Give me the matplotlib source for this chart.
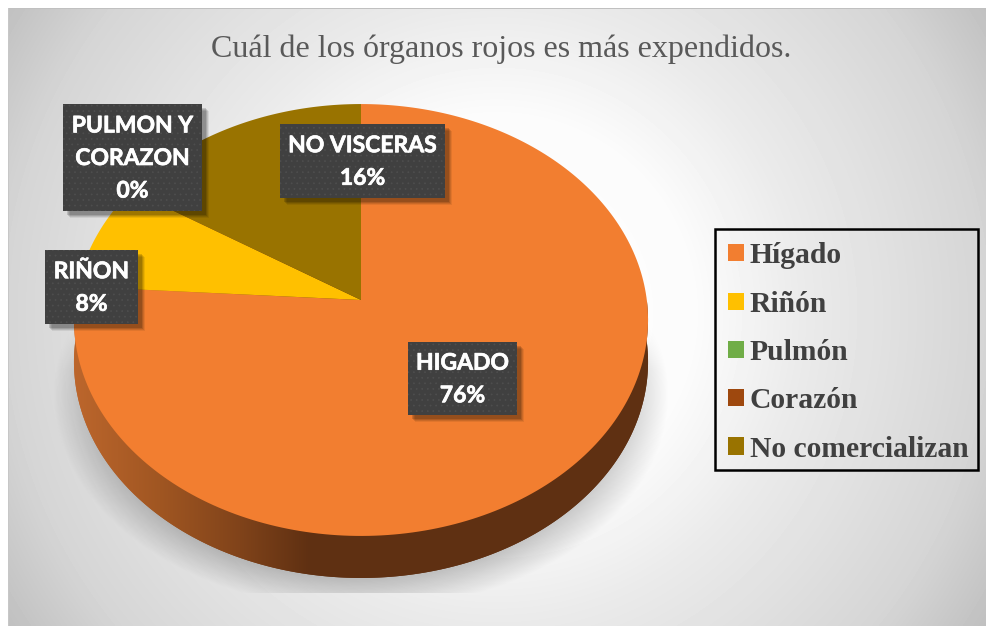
import numpy as np
import matplotlib
matplotlib.use("Agg")
import matplotlib.pyplot as plt
import matplotlib.patheffects as pe
from matplotlib.patches import Polygon, Rectangle, Patch

# data
organos = ["Hígado", "Riñón", "Pulmón", "Corazón", "No comercializan"]
valores = [76, 8, 0, 0, 16]
colores = ["#F27E30", "#FFC000", "#70AD47", "#9E480E", "#997300"]
titulo = "Cuál de los órganos rojos es más expendidos."
etiquetas = ["HIGADO\n76%", "RIÑON\n8%", "PULMON Y\nCORAZON\n0%", "NO VISCERAS\n16%"]
cajas = [(408, 342, 109, 73), (45, 250, 93, 74), (63, 104, 139, 107), (280, 124, 165, 74)]

W, H = 986, 626
fig = plt.figure(figsize=(W / 100, H / 100), dpi=100, facecolor="white")
ax = fig.add_axes([0, 0, 1, 1])

# pie geometry in pixels
cx, cy = 361, 300
a, b, c = 214.1, 285.8, 0.0926
depth = 42


def persp(x, y):
    # tilted disc, apex sits above the middle of the ellipse
    return cx + b * x / (1 + c * y), cy - a * y / (1 + c * y)


###################### Background ######################
xx, yy = np.meshgrid(np.arange(W) + 0.5, np.arange(H) + 0.5)
d = np.hypot(xx - 497, yy - 313)
fondo = np.interp(d, [0, 200, 305, 490, 582], [1, 0.985, 0.92, 0.835, 0.75])
fondo[(xx < 8) | (yy < 8)] = 1
fondo[8, 8:] = 0.75
fondo[8:, 8] = 0.78
ax.imshow(fondo, cmap="gray", vmin=0, vmax=1, extent=(0, W, H, 0), aspect="auto", zorder=0)

# soft shadow under the pie
r = np.sqrt(((xx - cx) / 308) ** 2 + ((yy - 395) / 215) ** 2)
sombra = 0.2 * np.clip((1 - r) / 0.14, 0, 1) * np.clip((yy - 320) / 50, 0, 1)
sombra[yy > 593] = 0
rgba = np.zeros((H, W, 4))
rgba[..., 3] = sombra
ax.imshow(rgba, extent=(0, W, H, 0), aspect="auto", zorder=1)

###################### Pie ######################
wedges, _ = ax.pie(valores, colors=colores, startangle=90, counterclock=False)
for w, col in zip(wedges, colores):
    w.remove()
    if w.theta2 - w.theta1 < 0.01:
        continue
    t = np.radians(np.linspace(w.theta1, w.theta2, 240))
    px, py = persp(np.r_[0, np.cos(t)], np.r_[0, np.sin(t)])
    ax.add_patch(Polygon(np.c_[px, py], closed=True, fc=col, ec="none", zorder=4))

# side wall, colour runs from left to right
t = np.radians(np.linspace(0, 360, 720))
ex, ey = persp(np.cos(t), np.sin(t))
ancho = np.arange(W) + 0.5
tono = np.c_[
    np.interp(ancho, [75, 160, 240, 310], [0xBC, 0xA0, 0x80, 0x5F]),
    np.interp(ancho, [75, 160, 240, 310], [0x66, 0x56, 0x43, 0x30]),
    np.interp(ancho, [75, 160, 240, 310], [0x2C, 0x22, 0x1A, 0x12]),
] / 255
im = ax.imshow(tono[np.newaxis, :, :], extent=(0, W, H, 0), aspect="auto", zorder=2)
im.set_clip_path(Polygon(np.c_[ex, ey + depth], closed=True, transform=ax.transData))

im2 = ax.imshow(tono[np.newaxis, :, :], extent=(0, W, H, 0), aspect="auto", zorder=3)
banda = np.r_[np.c_[ex[360:], ey[360:]], np.c_[ex[360:], ey[360:] + depth][::-1]]
im2.set_clip_path(Polygon(banda, closed=True, transform=ax.transData))

###################### Labels ######################
plt.rcParams["hatch.linewidth"] = 0.5
for (x0, y0, bw, bh), txt in zip(cajas, etiquetas):
    for off, al in [(7, 0.07), (6, 0.1), (5, 0.12), (4, 0.15)]:
        ax.add_patch(Rectangle((x0 + off, y0 + off), bw, bh, fc="black", ec="none", alpha=al, zorder=5))
    ax.add_patch(Rectangle((x0, y0), bw, bh, fc="#404040", ec="#4E4E4E", lw=0, hatch="...", zorder=6))
    ax.text(x0 + bw / 2, y0 + bh / 2 + 1, txt, color="white", family="Lato", fontweight="bold",
            fontsize=16.5, ha="center", va="center", linespacing=1.68, zorder=7,
            path_effects=[pe.withStroke(linewidth=0.5, foreground="white")])

ax.text(501, 49, titulo, family="Liberation Serif", color="#595959", fontsize=23,
        ha="center", va="center", zorder=7)

###################### Legend ######################
# frame drawn by hand so it can sit tight on the text
ax.add_patch(Rectangle((715, 229), 263, 241, fc="none", ec="black", lw=1.8, zorder=8))
handles = [Patch(fc=col, ec="none") for col in colores]
leg = ax.legend(handles, organos, loc="upper left", bbox_to_anchor=(715 / W, 1 - 229 / H),
                bbox_transform=fig.transFigure, frameon=False,
                prop={"family": "Liberation Serif", "weight": "bold", "size": 21.3},
                labelcolor="#404040", handlelength=0.52, handleheight=0.52, handletextpad=0.2,
                labelspacing=0.72, borderpad=0.45, borderaxespad=0)
leg.set_zorder(8)

ax.set_aspect("auto")
ax.set_xlim(0, W)
ax.set_ylim(H, 0)
ax.axis("off")

fig.savefig("out.png", dpi=100)
